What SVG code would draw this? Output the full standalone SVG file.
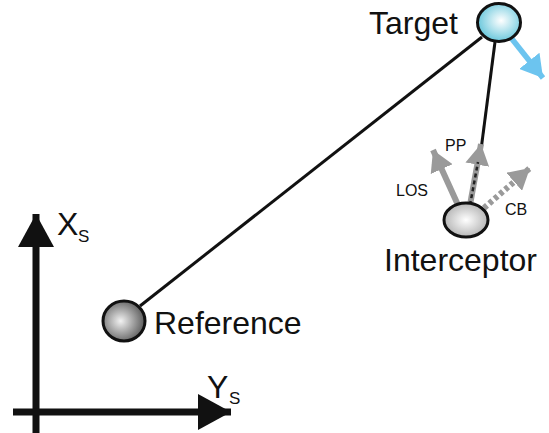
<svg xmlns="http://www.w3.org/2000/svg" width="549" height="433" viewBox="0 0 549 433">
<defs>
<style>
.lbl{font-family:"Liberation Sans",Arial,sans-serif;fill:#111}
.big{font-size:32px}
.sm{font-size:16px}
.sub{font-size:17px}
.link{stroke:#111;stroke-width:3;fill:none}
.node{stroke:#111;stroke-width:3}
.axis{stroke:#111;stroke-width:7;fill:none}
.gray{stroke:#9a9a9a;stroke-width:6;fill:none}
</style>
<radialGradient id="gT" cx="0.55" cy="0.45" r="0.6">
<stop offset="0" stop-color="#ffffff"/><stop offset="1" stop-color="#5ec3d9"/>
</radialGradient>
<radialGradient id="gR" cx="0.42" cy="0.5" r="0.6">
<stop offset="0" stop-color="#f2f2f2"/><stop offset="1" stop-color="#555555"/>
</radialGradient>
<radialGradient id="gI" cx="0.5" cy="0.5" r="0.6">
<stop offset="0" stop-color="#ffffff"/><stop offset="1" stop-color="#a8a8a8"/>
</radialGradient>
<marker id="ah" markerUnits="userSpaceOnUse" markerWidth="21" markerHeight="24" refX="21" refY="12" orient="auto">
<path d="M0,0 L21,12 L0,24 z" fill="#9a9a9a"/>
</marker>
<marker id="ahB" markerUnits="userSpaceOnUse" markerWidth="22" markerHeight="26" refX="22" refY="13" orient="auto">
<path d="M0,0 L22,13 L0,26 z" fill="#6cc4ef"/>
</marker>
<marker id="ahK" markerUnits="userSpaceOnUse" markerWidth="33" markerHeight="36" refX="33" refY="18" orient="auto">
<path d="M0,0 L33,18 L0,36 z" fill="#111"/>
</marker>
</defs>
<g id="connectors">
<line class="link" x1="482" y1="37" x2="140" y2="306"/>
<line class="link" x1="495" y1="42" x2="481" y2="150"/>
<line x1="512" y1="39" x2="543" y2="78" stroke="#6cc4ef" stroke-width="5.5" marker-end="url(#ahB)"/>
<line class="gray" x1="458" y1="205" x2="433" y2="150" marker-end="url(#ah)"/>
<line class="gray" x1="470" y1="205" x2="481" y2="144" marker-end="url(#ah)"/>
<line x1="470" y1="205" x2="478" y2="162" stroke="#222" stroke-width="2.5" stroke-dasharray="4 3"/>
<line class="gray" x1="484" y1="208" x2="530" y2="168" stroke-width="5" stroke-dasharray="4 3" marker-end="url(#ah)"/>
</g>
<g id="axes">
<line class="axis" x1="36" y1="433" x2="36" y2="214" marker-end="url(#ahK)"/>
<line class="axis" x1="13" y1="412" x2="231" y2="412" marker-end="url(#ahK)"/>
<text class="lbl big" x="57" y="235">X</text><text class="lbl sub" x="78" y="242">S</text>
<text class="lbl big" x="207" y="398">Y</text><text class="lbl sub" x="229" y="404">S</text>
</g>
<g id="target">
<ellipse class="node" cx="499" cy="22.5" rx="21.5" ry="19" fill="url(#gT)"/>
<text class="lbl big" x="369" y="34">Target</text>
</g>
<g id="reference">
<ellipse class="node" cx="124" cy="321" rx="21" ry="20" fill="url(#gR)"/>
<text class="lbl big" x="154" y="334">Reference</text>
</g>
<g id="interceptor">
<ellipse class="node" cx="466" cy="220" rx="22" ry="17" fill="url(#gI)"/>
<text class="lbl big" x="384" y="271">Interceptor</text>
<text class="lbl sm" x="445" y="151">PP</text>
<text class="lbl sm" x="396" y="196">LOS</text>
<text class="lbl sm" x="505" y="215">CB</text>
</g>
</svg>
